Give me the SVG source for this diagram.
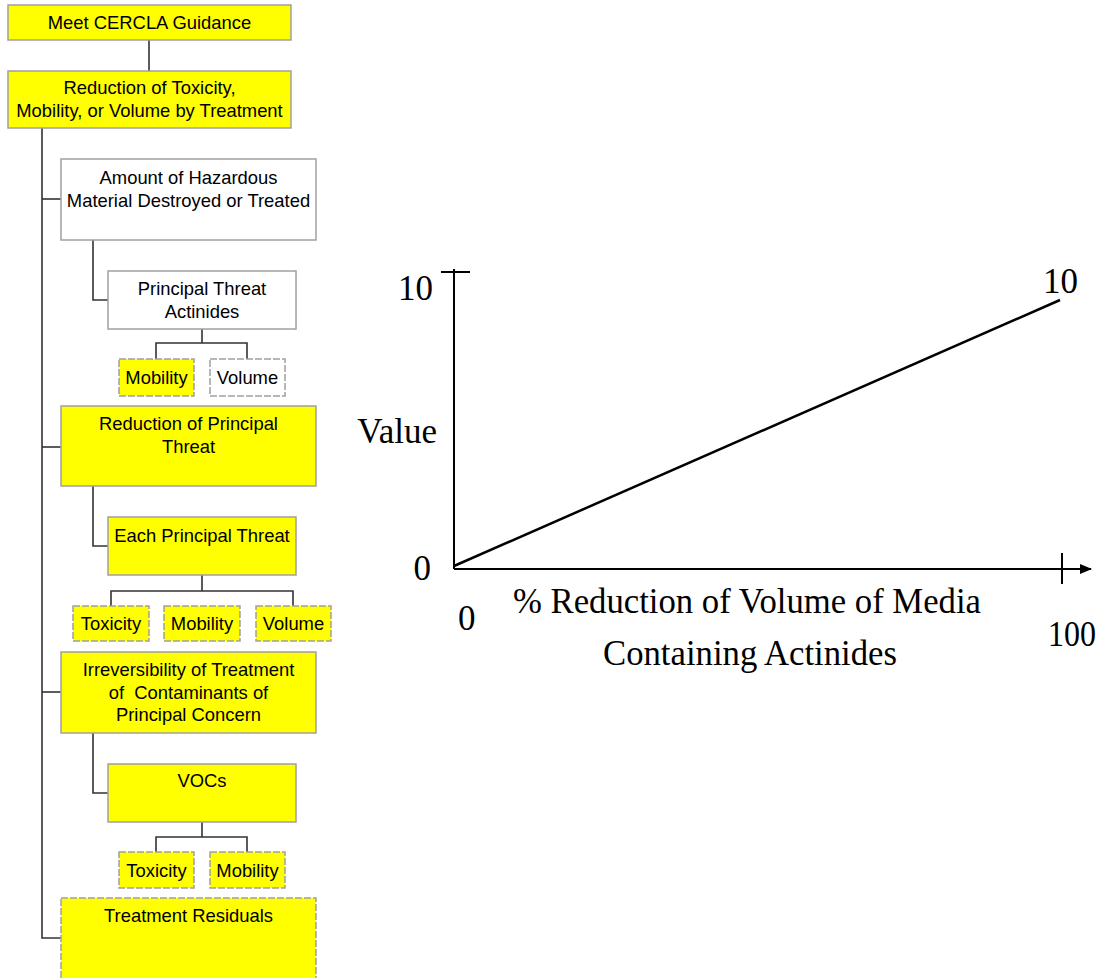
<svg xmlns="http://www.w3.org/2000/svg" width="1102" height="978" viewBox="0 0 1102 978">
  <style>
    .box { fill: #ffff00; stroke: #a0a0a0; stroke-width: 1.5; }
    .plain { fill: #ffffff; stroke: #a0a0a0; stroke-width: 1.5; }
    .dash { stroke-dasharray: 7 2; }
    .lbl { font-family: "Liberation Sans", Arial, sans-serif; font-size: 18.4px; fill: #000; text-anchor: middle; }
    .conn { fill: none; stroke: #333333; stroke-width: 1.6; }
    .axis { fill: none; stroke: #000; stroke-width: 2; }
    .ch { font-family: "Liberation Serif", "Times New Roman", serif; font-size: 35px; fill: #000; }
  </style>
  <defs>
    <marker id="arrow" markerWidth="12" markerHeight="10" refX="11" refY="5" orient="auto" markerUnits="userSpaceOnUse">
      <path d="M0,0 L12,5 L0,10 Z" fill="#000"/>
    </marker>
  </defs>

  <!-- tree connectors -->
  <g id="connectors">
    <path class="conn" d="M149,40 V71"/>
    <path class="conn" d="M42,128 V938 H61"/>
    <path class="conn" d="M42,199 H61"/>
    <path class="conn" d="M42,447 H61"/>
    <path class="conn" d="M42,692 H61"/>
    <path class="conn" d="M93,240 V300 H108"/>
    <path class="conn" d="M202,329 V343 M156,359 V343 H247 V359"/>
    <path class="conn" d="M93,486 V546 H108"/>
    <path class="conn" d="M202,575 V591 M111,606 V591 H293 V606"/>
    <path class="conn" d="M93,733 V793 H108"/>
    <path class="conn" d="M202,822 V837 M156,852 V837 H247 V852"/>
  </g>

  <g id="meet-cercla">
    <rect class="box" x="8" y="5" width="283" height="35"/>
    <text class="lbl" x="149.5" y="28.5">Meet CERCLA Guidance</text>
  </g>
  <g id="reduction-tmv">
    <rect class="box" x="8" y="71" width="283" height="57"/>
    <text class="lbl" x="149.5" y="93.5">Reduction of Toxicity,</text>
    <text class="lbl" x="149.5" y="116.5">Mobility, or Volume by Treatment</text>
  </g>
  <g id="amount-destroyed">
    <rect class="plain" x="61" y="159" width="255" height="81"/>
    <text class="lbl" x="188.5" y="183.5">Amount of Hazardous</text>
    <text class="lbl" x="188.5" y="206.5">Material Destroyed or Treated</text>
  </g>
  <g id="principal-actinides">
    <rect class="plain" x="108" y="271" width="188" height="58"/>
    <text class="lbl" x="202" y="295">Principal Threat</text>
    <text class="lbl" x="202" y="318">Actinides</text>
  </g>
  <g id="actinides-mobility">
    <rect class="box dash" x="119" y="359" width="75" height="37"/>
    <text class="lbl" x="156.5" y="383.5">Mobility</text>
  </g>
  <g id="actinides-volume">
    <rect class="plain dash" x="210" y="359" width="75" height="37"/>
    <text class="lbl" x="247.5" y="383.5">Volume</text>
  </g>
  <g id="reduction-principal">
    <rect class="box" x="61" y="406" width="255" height="80"/>
    <text class="lbl" x="188.5" y="430">Reduction of Principal</text>
    <text class="lbl" x="188.5" y="452.5">Threat</text>
  </g>
  <g id="each-principal">
    <rect class="box" x="108" y="517" width="188" height="58"/>
    <text class="lbl" x="202" y="541.5">Each Principal Threat</text>
  </g>
  <g id="each-toxicity">
    <rect class="box dash" x="73" y="606" width="76" height="35"/>
    <text class="lbl" x="111" y="630">Toxicity</text>
  </g>
  <g id="each-mobility">
    <rect class="box dash" x="164" y="606" width="76" height="35"/>
    <text class="lbl" x="202" y="630">Mobility</text>
  </g>
  <g id="each-volume">
    <rect class="box dash" x="256" y="606" width="75" height="35"/>
    <text class="lbl" x="293.5" y="630">Volume</text>
  </g>
  <g id="irreversibility">
    <rect class="box" x="61" y="652" width="255" height="81"/>
    <text class="lbl" x="188.5" y="676">Irreversibility of Treatment</text>
    <text class="lbl" x="188.5" y="698.5" xml:space="preserve">of  Contaminants of</text>
    <text class="lbl" x="188.5" y="721">Principal Concern</text>
  </g>
  <g id="vocs">
    <rect class="box" x="108" y="764" width="188" height="58"/>
    <text class="lbl" x="202" y="787">VOCs</text>
  </g>
  <g id="vocs-toxicity">
    <rect class="box dash" x="119" y="852" width="75" height="36"/>
    <text class="lbl" x="156.5" y="876.5">Toxicity</text>
  </g>
  <g id="vocs-mobility">
    <rect class="box dash" x="210" y="852" width="75" height="36"/>
    <text class="lbl" x="247.5" y="876.5">Mobility</text>
  </g>
  <g id="treatment-residuals">
    <rect class="box dash" x="61" y="898" width="255" height="100"/>
    <text class="lbl" x="188.5" y="922">Treatment Residuals</text>
  </g>

  <!-- value function chart -->
  <g id="chart">
    <path class="axis" d="M454,269 V569"/>
    <path class="axis" d="M441,272 H470"/>
    <path class="axis" d="M454,569 H1091" marker-end="url(#arrow)"/>
    <path class="axis" d="M1062,553 V584"/>
    <path fill="none" stroke="#000" stroke-width="2.5" d="M454,566 L1060,300"/>
    <text class="ch" x="433" y="300" text-anchor="end">10</text>
    <text class="ch" x="437" y="443" text-anchor="end">Value</text>
    <text class="ch" x="431" y="580" text-anchor="end">0</text>
    <text class="ch" x="458" y="630">0</text>
    <text class="ch" x="1043" y="293">10</text>
    <text class="ch" x="1048" y="646" textLength="48" lengthAdjust="spacingAndGlyphs">100</text>
    <text class="ch" x="513" y="613" textLength="468" lengthAdjust="spacingAndGlyphs">% Reduction of Volume of Media</text>
    <text class="ch" x="603" y="665" textLength="294" lengthAdjust="spacingAndGlyphs">Containing Actinides</text>
  </g>
</svg>
